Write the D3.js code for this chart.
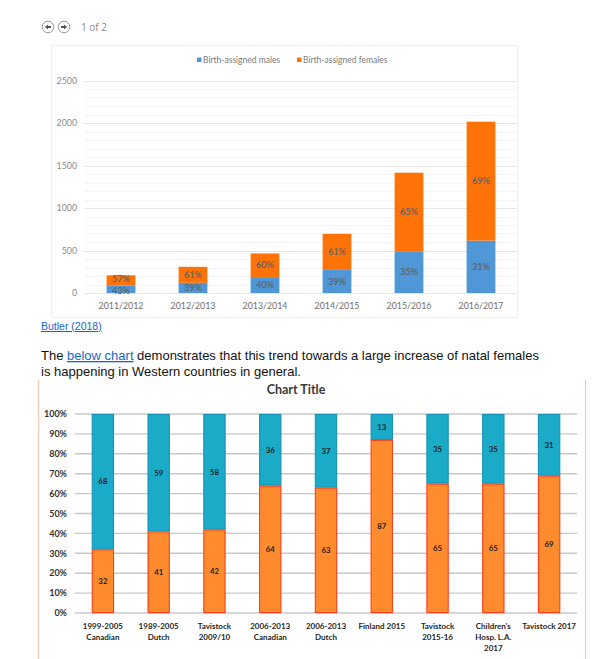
<!DOCTYPE html>
<html>
<head>
<meta charset="utf-8">
<script src="https://cdn.jsdelivr.net/npm/d3@7"></script>
<style>
  html, body { margin: 0; padding: 0; background: #fff; }
  svg { display: block; }
</style>
</head>
<body>
<svg id="chart" width="605" height="659"></svg>
<script>
// ---------- Chart 1 data (Butler 2018) ----------
const years = ["2011/2012", "2012/2013", "2013/2014", "2014/2015", "2015/2016", "2016/2017"];
const malesCount = [90, 120, 187, 272, 490, 616];
const femalesCount = [118, 188, 278, 424, 925, 1400];
const malesPct = ["43%", "39%", "40%", "39%", "35%", "31%"];
const femalesPct = ["57%", "61%", "60%", "61%", "65%", "69%"];
const yTicks1 = [0, 500, 1000, 1500, 2000, 2500];
const legend1 = ["Birth-assigned males", "Birth-assigned females"];

// ---------- Chart 2 data ----------
const studies = [
  "1999-2005\nCanadian", "1989-2005\nDutch", "Tavistock\n2009/10", "2006-2013\nCanadian",
  "2006-2013\nDutch", "Finland 2015", "Tavistock\n2015-16", "Children's\nHosp. L.A.\n2017", "Tavistock 2017"
];
const femalesShare = [32, 41, 42, 64, 63, 87, 65, 65, 69];
const malesShare = [68, 59, 58, 36, 37, 13, 35, 35, 31];
const yTicks2 = [0, 10, 20, 30, 40, 50, 60, 70, 80, 90, 100];

const svg = d3.select("#chart");
svg.append("rect").attr("width", 605).attr("height", 659).attr("fill", "#fff");

// ---------- Page header (nav) ----------
const nav = svg.append("g");
[48, 64].forEach((cx, i) => {
  nav.append("circle").attr("cx", cx).attr("cy", 27).attr("r", 5.8)
    .attr("fill", "#fff").attr("stroke", "#9a9a9a").attr("stroke-width", 1);
  const d = i === 0 ? "M" + (cx - 3) + ",27 l3,-2.5 v1.6 h3 v1.8 h-3 v1.6 z"
                    : "M" + (cx + 3) + ",27 l-3,-2.5 v1.6 h-3 v1.8 h3 v1.6 z";
  nav.append("path").attr("d", d).attr("fill", "#555");
});
nav.append("text").attr("x", 81).attr("y", 31).text("1 of 2")
  .attr("font-family", "Open Sans, sans-serif").attr("font-size", 10).attr("fill", "#8a8a8a");

// ---------- Chart 1 ----------
const c1 = svg.append("g");
c1.append("rect").attr("x", 51.5).attr("y", 45.5).attr("width", 466).attr("height", 272)
  .attr("fill", "#fff").attr("stroke", "#f1f1f1").attr("stroke-width", 1.5);

const x1 = d3.scaleBand().domain(years).range([85, 517]).paddingInner(0.6).paddingOuter(0.3);
const y1 = d3.scaleLinear().domain([0, 2500]).range([293, 80.5]);
const col1 = ["#4f97d7", "#fd7308"];

// minor gridlines
c1.append("g").selectAll("line").data(d3.range(0, 2501, 100)).join("line")
  .attr("x1", 85).attr("x2", 517)
  .attr("y1", d => Math.round(y1(d)) + 0.5).attr("y2", d => Math.round(y1(d)) + 0.5)
  .attr("stroke", d => d % 500 === 0 ? "#e6e6e6" : "#f3f3f3").attr("stroke-width", 1);

c1.append("g").selectAll("text").data(yTicks1).join("text")
  .attr("x", 77).attr("y", d => y1(d) + 3).attr("text-anchor", "end")
  .attr("font-family", "Lato, sans-serif").attr("font-size", 8.8).attr("fill", "#8c8c8c")
  .text(d => d);

const rows1 = years.map((y, i) => ({ year: y, males: malesCount[i], females: femalesCount[i] }));
const stack1 = d3.stack().keys(["males", "females"])(rows1);
const pctLabels = [malesPct, femalesPct];
const labelFont1 = 9.2;

// label centres; push apart labels of one bar if they would collide
const labelY1 = years.map((yr, i) => {
  let m = (y1(stack1[0][i][0]) + y1(stack1[0][i][1])) / 2;
  let f = (y1(stack1[1][i][0]) + y1(stack1[1][i][1])) / 2;
  const need = labelFont1 * 1.25;
  if (m - f < need) {
    const extra = (need - (m - f)) / 2;
    m += extra; f -= extra;
  }
  return [m, f];
});

stack1.forEach((layer, li) => {
  const g = c1.append("g");
  g.selectAll("rect").data(layer).join("rect")
    .attr("x", d => x1(d.data.year)).attr("width", x1.bandwidth())
    .attr("y", d => y1(d[1])).attr("height", d => y1(d[0]) - y1(d[1]))
    .attr("fill", col1[li]);
  g.selectAll("text").data(layer).join("text")
    .attr("x", d => x1(d.data.year) + x1.bandwidth() / 2)
    .attr("y", (d, i) => labelY1[i][li] + 3.2)
    .attr("text-anchor", "middle")
    .attr("font-family", "Lato, sans-serif").attr("font-size", labelFont1).attr("font-weight", 600)
    .attr("fill", "#626262")
    .text((d, i) => pctLabels[li][i]);
});

c1.append("g").selectAll("text").data(years).join("text")
  .attr("x", d => x1(d) + x1.bandwidth() / 2).attr("y", 309).attr("text-anchor", "middle")
  .attr("font-family", "Lato, sans-serif").attr("font-size", 8.8).attr("fill", "#6f6f6f")
  .text(d => d);

// legend
const lg = c1.append("g");
[[197, 203], [297, 303]].forEach(([sx, tx], i) => {
  lg.append("rect").attr("x", sx).attr("y", 57.5).attr("width", 4.5).attr("height", 4.5).attr("fill", col1[i]);
  lg.append("text").attr("x", tx).attr("y", 62.8).text(legend1[i])
    .attr("font-family", "Lato, sans-serif").attr("font-size", 8.5).attr("fill", "#7b7b7b");
});

// ---------- Text between charts ----------
svg.append("text").attr("x", 41).attr("y", 330)
  .attr("font-family", "Liberation Sans, Arial, sans-serif").attr("font-size", 10.5)
  .attr("fill", "#1a66c8").attr("text-decoration", "underline").text("Butler (2018)");

const p1 = svg.append("text").attr("x", 41).attr("y", 360)
  .attr("font-family", "Liberation Sans, Arial, sans-serif").attr("font-size", 13).attr("fill", "#111");
p1.append("tspan").text("The ");
p1.append("tspan").attr("fill", "#1a66c8").attr("text-decoration", "underline").text("below chart");
p1.append("tspan").text(" demonstrates that this trend towards a large increase of natal females");
svg.append("text").attr("x", 41).attr("y", 376)
  .attr("font-family", "Liberation Sans, Arial, sans-serif").attr("font-size", 13).attr("fill", "#111")
  .text("is happening in Western countries in general.");

// ---------- Chart 2 ----------
const c2 = svg.append("g");
c2.append("line").attr("x1", 38.5).attr("x2", 38.5).attr("y1", 380).attr("y2", 659)
  .attr("stroke", "#f9c6ae").attr("stroke-width", 1.2);
c2.append("line").attr("x1", 585.5).attr("x2", 585.5).attr("y1", 380).attr("y2", 659)
  .attr("stroke", "#f9c6ae").attr("stroke-width", 1.2);

c2.append("text").attr("x", 296).attr("y", 393.5).attr("text-anchor", "middle")
  .attr("font-family", "Lato, sans-serif").attr("font-size", 12.5).attr("font-weight", "bold")
  .attr("fill", "#3a3a3a").text("Chart Title");

const x2 = d3.scaleBand().domain(studies).range([75, 577]).paddingInner(0.6).paddingOuter(0.3);
const y2 = d3.scaleLinear().domain([0, 100]).range([613, 414]);

c2.append("g").selectAll("line").data(yTicks2).join("line")
  .attr("x1", 75).attr("x2", 577)
  .attr("y1", d => y2(d)).attr("y2", d => y2(d))
  .attr("stroke", "#c8c8c8").attr("stroke-width", 1.4);

c2.append("g").selectAll("text").data(yTicks2).join("text")
  .attr("x", 67).attr("y", d => y2(d) + 3.2).attr("text-anchor", "end")
  .attr("font-family", "Lato, sans-serif").attr("font-size", 9).attr("font-weight", "bold")
  .attr("fill", "#333").text(d => d + "%");

const rows2 = studies.map((s, i) => ({ study: s, females: femalesShare[i], males: malesShare[i] }));
const stack2 = d3.stack().keys(["females", "males"])(rows2);
const fill2 = ["#fe8c2f", "#1aabc9"];
const stroke2 = ["#ff3d1c", "#1790b5"];

stack2.forEach((layer, li) => {
  const g = c2.append("g");
  g.selectAll("rect").data(layer).join("rect")
    .attr("x", d => x2(d.data.study) + 0.5).attr("width", x2.bandwidth() - 1)
    .attr("y", d => y2(d[1]) + 0.5).attr("height", d => y2(d[0]) - y2(d[1]) - 1)
    .attr("fill", fill2[li]).attr("stroke", stroke2[li]).attr("stroke-width", 1.1);
  g.selectAll("text").data(layer).join("text")
    .attr("x", d => x2(d.data.study) + x2.bandwidth() / 2)
    .attr("y", d => (y2(d[0]) + y2(d[1])) / 2 + 2.8)
    .attr("text-anchor", "middle")
    .attr("font-family", "Lato, sans-serif").attr("font-size", 7.8).attr("font-weight", "bold")
    .attr("fill", "#1e1e1e")
    .text(d => d[1] - d[0]);
});

const xl = c2.append("g").selectAll("text").data(studies).join("text")
  .attr("x", d => x2(d) + x2.bandwidth() / 2).attr("y", 629).attr("text-anchor", "middle")
  .attr("font-family", "Lato, sans-serif").attr("font-size", 8).attr("font-weight", "bold")
  .attr("fill", "#262626");
xl.each(function (d) {
  const t = d3.select(this);
  d.split("\n").forEach((line, i) => {
    t.append("tspan").attr("x", x2(d) + x2.bandwidth() / 2).attr("dy", i === 0 ? 0 : 11).text(line);
  });
});
</script>
</body>
</html>
